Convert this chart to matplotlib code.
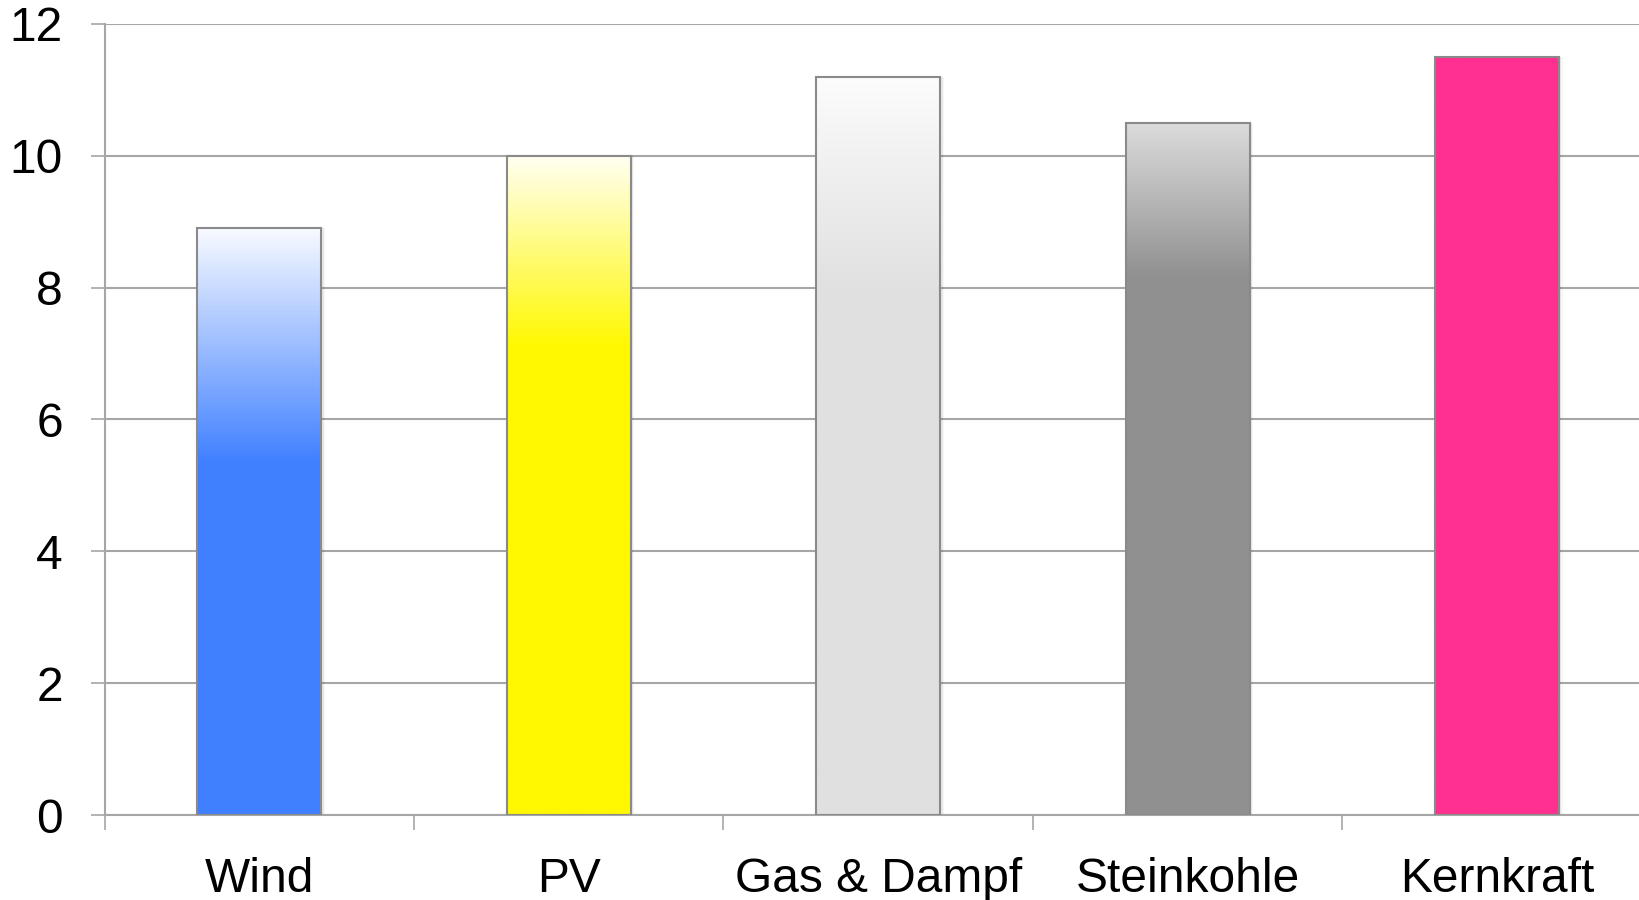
import numpy as np
import matplotlib
matplotlib.use("Agg")
import matplotlib.pyplot as plt
from matplotlib.colors import to_rgb
from matplotlib.patches import Rectangle

# Data
categories = ["Wind", "PV", "Gas & Dampf", "Steinkohle", "Kernkraft"]
values = [8.9, 10.0, 11.2, 10.5, 11.5]
y_ticks = [0, 2, 4, 6, 8, 10, 12]

# Fill styling: solid base colour, colour at the bar top, and the level
# where the vertical fade begins
base_colors = ["#4080FF", "#FFF800", "#E0E0E0", "#909090", "#FF3090"]
top_colors = ["#F8FAFF", "#FFFFF2", "#FCFCFC", "#DCDCDC", "#FF3090"]
fade_start = [5.35, 7.1, 7.9, 8.15, 11.5]

plt.rcParams["font.family"] = ["Liberation Sans", "DejaVu Sans"]

fig = plt.figure(figsize=(16.39, 9.0), dpi=100)
ax = fig.add_axes([0.0638, 0.0944, 0.944, 0.879])

grid_col = "#A6A6A6"
edge_col = "#8A8A8A"
bar_w = 0.4
x = np.arange(len(categories))

for xi, v, c0, c1, fs in zip(x, values, base_colors, top_colors, fade_start):
    x0, x1 = xi - bar_w / 2, xi + bar_w / 2
    # soft shadow on the right side
    for k, a in enumerate([0.10, 0.06, 0.03]):
        ax.add_patch(Rectangle((x0 + 0.004 * (k + 1), 0), bar_w, v,
                               facecolor="black", alpha=a, edgecolor="none",
                               zorder=1.5))
    ys = np.linspace(0, v, 400)
    t = np.clip((ys - fs) / max(v - fs, 1e-9), 0, 1)
    a0, a1 = np.array(to_rgb(c0)), np.array(to_rgb(c1))
    col = a0[None, :] * (1 - t[:, None]) + a1[None, :] * t[:, None]
    img = np.repeat(col[:, None, :], 2, axis=1)
    ax.imshow(img, extent=[x0, x1, 0, v], origin="lower", aspect="auto",
              interpolation="bilinear", zorder=2)
    ax.add_patch(Rectangle((x0, 0), bar_w, v, facecolor="none",
                           edgecolor=edge_col, linewidth=1.5, zorder=3))

ax.set_xlim(-0.5, len(categories) - 0.5)
ax.set_ylim(0, 12)
ax.set_yticks(y_ticks)
ax.set_yticklabels([str(t) for t in y_ticks])
ax.yaxis.grid(True, color=grid_col, linewidth=1.5, zorder=0)
ax.set_axisbelow(True)

ax.set_xticks(x)
ax.set_xticklabels(categories)
ax.set_xticks(np.arange(-0.5, len(categories) + 0.5, 1.0), minor=True)

for s in ["top", "right"]:
    ax.spines[s].set_visible(False)
for s in ["left", "bottom"]:
    ax.spines[s].set_color(grid_col)
    ax.spines[s].set_linewidth(1.5)

ax.tick_params(axis="y", length=10, width=1.2, color=grid_col, pad=20,
               labelsize=34.5)
ax.tick_params(axis="x", which="major", length=0, pad=30, labelsize=34.5)
ax.tick_params(axis="x", which="minor", length=11, width=1.2, color=grid_col)

fig.savefig("out.png", dpi=100, facecolor="white")
